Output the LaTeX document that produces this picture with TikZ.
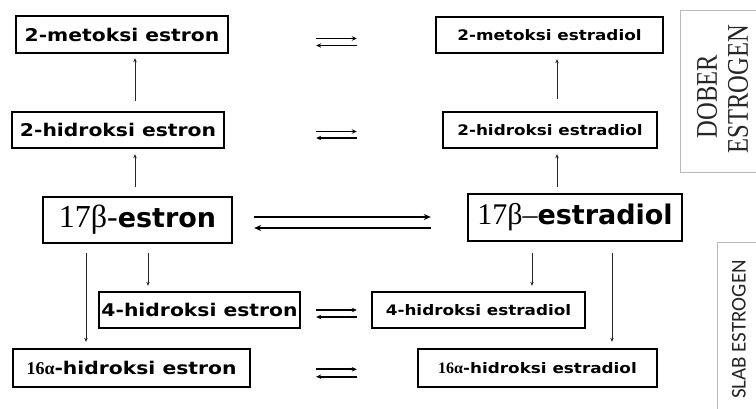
\documentclass[tikz,border=0pt]{standalone}
\usepackage{fontspec}
\usetikzlibrary{arrows.meta}
\setmainfont{Liberation Serif}
\newfontfamily\labfont[FakeStretch=1.16]{DejaVu Sans}
\newfontfamily\bigsans{DejaVu Sans}
\newfontfamily\sideserif[FakeStretch=0.82]{Liberation Serif}
\newfontfamily\sidesans{Carlito}

\tikzset{
  lbox/.style={draw, line width=2.4pt, inner sep=0pt, align=center},
  bigtxt/.style={font=\labfont\bfseries\fontsize{17.5}{20}\selectfont},
  smalltxt/.style={font=\labfont\bfseries\fontsize{14.5}{17}\selectfont},
  sidebox/.style={draw=gray!55, line width=0.8pt, inner sep=0pt},
  vline/.style={line width=0.8pt, draw=black!85, -{Stealth[length=4pt,width=3.5pt]}},
  eqf/.style={line width=1.8pt, -{Stealth[length=5pt,width=4.5pt]}},
  eqb/.style={line width=1.8pt, {Stealth[length=5pt,width=4.5pt]}-},
  bigf/.style={line width=2.6pt, -{Stealth[length=7pt,width=6pt]}},
  bigb/.style={line width=2.6pt, {Stealth[length=7pt,width=6pt]}-},
}
\newcommand{\sixteen}[1]{{\rmfamily\bfseries\fontsize{#1}{#1}\selectfont 16α}}

\begin{document}
\begin{tikzpicture}[x=1pt,y=-1pt]
\clip (0,0) rectangle (756,409);
\fill[white] (0,0) rectangle (756,409);

% estron column
\node[lbox, bigtxt, minimum width=212pt, minimum height=37pt] (e2m) at (122,34.5) {2-metoksi estron};
\node[lbox, bigtxt, minimum width=212pt, minimum height=36pt] (e2h) at (118,130) {2-hidroksi estron};
\node[lbox, minimum width=189pt, minimum height=46pt] (e17) at (137.5,220)
  {{\rmfamily\fontsize{32}{36}\selectfont 17β-}{\bigsans\bfseries\fontsize{27}{30}\selectfont estron}};
\node[lbox, bigtxt, minimum width=201pt, minimum height=36pt] (e4h) at (199.5,310) {4-hidroksi estron};
\node[lbox, bigtxt, minimum width=237pt, minimum height=38pt] (e16) at (131.5,368) {\sixteen{18}-hidroksi estron};

% estradiol column
\node[lbox, smalltxt, minimum width=227pt, minimum height=36pt] (d2m) at (549.5,35) {2-metoksi estradiol};
\node[lbox, smalltxt, minimum width=214pt, minimum height=36pt] (d2h) at (550,130) {2-hidroksi estradiol};
\node[lbox, minimum width=214pt, minimum height=47pt] (d17) at (575,217.5)
  {{\rmfamily\fontsize{30}{34}\selectfont 17β–}{\bigsans\bfseries\fontsize{27}{30}\selectfont estradiol}};
\node[lbox, smalltxt, minimum width=213pt, minimum height=36pt] (d4h) at (478.5,310) {4-hidroksi estradiol};
\node[lbox, smalltxt, minimum width=239pt, minimum height=38pt] (d16) at (537.5,368) {\sixteen{16}-hidroksi estradiol};

% side labels
\node[sidebox, anchor=north west, minimum width=90pt, minimum height=162pt] (dober) at (680,10) {};
\node[rotate=90, font=\sideserif\fontsize{30}{30}\selectfont, text=black!85, inner sep=0pt] (dobera) at (707,96.5) {DOBER};
\node[rotate=90, font=\sideserif\fontsize{30}{30}\selectfont, text=black!85, inner sep=0pt] (doberb) at (738,89) {ESTROGEN};
\node[sidebox, anchor=north west, minimum width=60pt, minimum height=190pt] (slab) at (717,242) {};
\node[rotate=90, font=\sidesans\fontsize{21}{21}\selectfont, text=black!85, inner sep=0pt] (slabt) at (739,329.5) {SLAB ESTROGEN};

% column positions of the vertical arrows
\coordinate (cL) at (135,0);
\coordinate (cR) at (557,0);
\coordinate (c4L) at (148,0);
\coordinate (c16L) at (86,0);
\coordinate (c4R) at (532,0);
\coordinate (c16R) at (612,0);

% hydroxylation / methylation steps
\draw[vline, shorten <=9pt, shorten >=5pt] (e17.north -| cL) -- (e2h.south -| cL);
\draw[vline, shorten <=10pt, shorten >=4pt] (e2h.north -| cL) -- (e2m.south -| cL);
\draw[vline, shorten <=6pt, shorten >=5pt] (d17.north -| cR) -- (d2h.south -| cR);
\draw[vline, shorten <=12pt, shorten >=5pt] (d2h.north -| cR) -- (d2m.south -| cR);
\draw[vline, shorten <=9pt, shorten >=5pt] (e17.south -| c4L) -- (e4h.north -| c4L);
\draw[vline, shorten <=9pt, shorten >=6pt] (e17.south -| c16L) -- (e16.north -| c16L);
\draw[vline, shorten <=11pt, shorten >=5pt] (d17.south -| c4R) -- (d4h.north -| c4R);
\draw[vline, shorten <=11pt, shorten >=6pt] (d17.south -| c16R) -- (d16.north -| c16R);

% equilibria between estron and estradiol forms
\draw[eqf, shorten <=87pt, shorten >=78pt] ([yshift=-4pt]e2m.east) -- ([yshift=-4pt]e2m.east -| d2m.west);
\draw[eqb, shorten <=87pt, shorten >=78pt] ([yshift=-11pt]e2m.east) -- ([yshift=-11pt]e2m.east -| d2m.west);
\draw[eqf, shorten <=91pt, shorten >=85pt] ([yshift=-1.5pt]e2h.east) -- ([yshift=-1.5pt]e2h.east -| d2h.west);
\draw[eqb, shorten <=91pt, shorten >=85pt] ([yshift=-8pt]e2h.east) -- ([yshift=-8pt]e2h.east -| d2h.west);
\draw[eqf, shorten <=15pt, shorten >=14pt] (e4h.east) -- (e4h.east -| d4h.west);
\draw[eqb, shorten <=15pt, shorten >=14pt] ([yshift=-7pt]e4h.east) -- ([yshift=-7pt]e4h.east -| d4h.west);
\draw[eqf, shorten <=65pt, shorten >=60pt] ([yshift=-1.3pt]e16.east) -- ([yshift=-1.3pt]e16.east -| d16.west);
\draw[eqb, shorten <=65pt, shorten >=60pt] ([yshift=-8.7pt]e16.east) -- ([yshift=-8.7pt]e16.east -| d16.west);
\draw[bigf, shorten <=21pt, shorten >=36pt] ([yshift=3pt]e17.east) -- ([yshift=3pt]e17.east -| d17.west);
\draw[bigb, shorten <=21pt, shorten >=36pt] ([yshift=-8pt]e17.east) -- ([yshift=-8pt]e17.east -| d17.west);
\end{tikzpicture}
\end{document}
